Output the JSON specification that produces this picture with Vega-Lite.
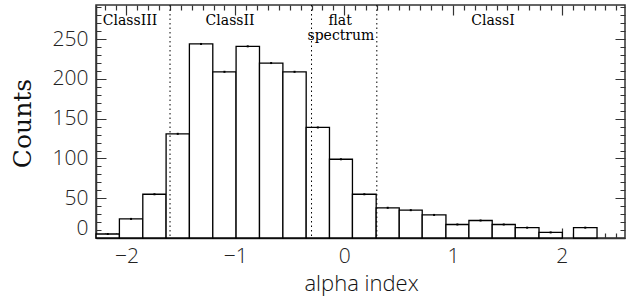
{
  "$schema": "https://vega.github.io/schema/vega-lite/v6.json",
  "width": 529,
  "height": 233,
  "autosize": "none",
  "padding": {"left": 96, "top": 5, "right": 1, "bottom": 70},
  "background": "white",
  "config": {
    "view": {"stroke": "#333", "strokeWidth": 1.5},
    "axis": {"domainColor": "#333", "domainWidth": 1.5, "labelColor": "#222", "titleColor": "#111", "zindex": 1, "ticks": false, "grid": true, "gridColor": "#333", "gridWidth": 1.2, "gridOpacity": 1}
  },
  "datasets": {
    "hist": [
      {"x0": -2.279, "x1": -2.065, "mid": -2.172, "count": 5},
      {"x0": -2.065, "x1": -1.850, "mid": -1.958, "count": 24},
      {"x0": -1.850, "x1": -1.636, "mid": -1.743, "count": 55},
      {"x0": -1.636, "x1": -1.422, "mid": -1.529, "count": 131},
      {"x0": -1.422, "x1": -1.207, "mid": -1.315, "count": 244},
      {"x0": -1.207, "x1": -0.993, "mid": -1.100, "count": 209},
      {"x0": -0.993, "x1": -0.778, "mid": -0.886, "count": 241},
      {"x0": -0.778, "x1": -0.563, "mid": -0.671, "count": 220},
      {"x0": -0.563, "x1": -0.349, "mid": -0.456, "count": 209},
      {"x0": -0.349, "x1": -0.135, "mid": -0.242, "count": 139},
      {"x0": -0.135, "x1": 0.076, "mid": -0.030, "count": 99},
      {"x0": 0.076, "x1": 0.294, "mid": 0.185, "count": 55},
      {"x0": 0.294, "x1": 0.506, "mid": 0.400, "count": 38},
      {"x0": 0.506, "x1": 0.717, "mid": 0.612, "count": 35},
      {"x0": 0.717, "x1": 0.935, "mid": 0.826, "count": 29},
      {"x0": 0.935, "x1": 1.146, "mid": 1.040, "count": 17},
      {"x0": 1.146, "x1": 1.360, "mid": 1.253, "count": 22},
      {"x0": 1.360, "x1": 1.572, "mid": 1.466, "count": 17},
      {"x0": 1.572, "x1": 1.790, "mid": 1.681, "count": 13},
      {"x0": 1.790, "x1": 2.004, "mid": 1.897, "count": 7},
      {"x0": 2.107, "x1": 2.323, "mid": 2.215, "count": 13}
    ],
    "bounds": [{"b": -1.6}, {"b": -0.3}, {"b": 0.3}],
    "labels": [
      {"text": "ClassIII", "x": -1.967, "y": 268},
      {"text": "ClassII", "x": -1.048, "y": 268},
      {"text": "flat", "x": -0.037, "y": 268},
      {"text": "spectrum", "x": -0.03, "y": 249},
      {"text": "ClassI", "x": 1.367, "y": 268}
    ]
  },
  "layer": [
    {
      "data": {"name": "hist"},
      "mark": {"type": "rect", "fill": "white", "stroke": "black", "strokeWidth": 1.3},
      "encoding": {
        "x": {
          "field": "x0", "type": "quantitative",
          "scale": {"domain": [-2.28, 2.58], "nice": false, "zero": false},
          "axis": {
            "orient": "bottom",
            "title": "alpha index",
            "titleFont": "Open Sans", "titleFontSize": 22, "titleFontWeight": 300,
            "titleBaseline": "alphabetic", "titleY": 52, "titleX": 265,
            "values": [-2.2,-2.1,-2,-1.9,-1.8,-1.7,-1.6,-1.5,-1.4,-1.3,-1.2,-1.1,-1,-0.9,-0.8,-0.7,-0.6,-0.5,-0.4,-0.3,-0.2,-0.1,0,0.1,0.2,0.3,0.4,0.5,0.6,0.7,0.8,0.9,1,1.1,1.2,1.3,1.4,1.5,1.6,1.7,1.8,1.9,2,2.1,2.2,2.3,2.4,2.5],
            "labelExpr": "abs(datum.value - round(datum.value)) < 0.001 ? format(round(datum.value), 'd') : ''",
            "labelFont": "Open Sans", "labelFontSize": 21, "labelFontWeight": 300,
            "labelBaseline": "alphabetic", "labelPadding": 24,
            "gridDash": {"condition": {"test": "abs(datum.value - round(datum.value)) < 0.001", "value": [10, 213, 10, 1000]}, "value": [5, 223, 5, 1000]}
          }
        },
        "x2": {"field": "x1"},
        "y": {
          "field": "count", "type": "quantitative",
          "scale": {"domain": [0, 293], "nice": false},
          "axis": {
            "orient": "left",
            "title": "Counts",
            "titleFont": "DejaVu Serif", "titleFontSize": 25, "titleFontWeight": "normal",
            "titleAngle": -90, "titleBaseline": "middle", "titleAlign": "center",
            "titleX": -74, "titleY": 118,
            "values": [0,10,20,30,40,50,60,70,80,90,100,110,120,130,140,150,160,170,180,190,200,210,220,230,240,250,260,270,280,290],
            "labelExpr": "datum.value % 50 === 0 ? datum.label : ''",
            "labelFont": "Open Sans", "labelFontSize": 21, "labelFontWeight": 300,
            "labelPadding": 8, "labelFlush": true,
            "gridDash": {"condition": {"test": "datum.value % 50 === 0", "value": [10, 509, 10, 1000]}, "value": [5, 519, 5, 1000]}
          }
        },
        "y2": {"datum": 0}
      }
    },
    {
      "data": {"name": "bounds"},
      "mark": {"type": "rule", "color": "black", "strokeWidth": 1, "strokeDash": [1.5, 3]},
      "encoding": {
        "x": {"field": "b", "type": "quantitative", "scale": {"domain": [-2.28, 2.58], "nice": false, "zero": false}, "axis": null}
      }
    },
    {
      "data": {"name": "labels"},
      "mark": {"type": "text", "font": "DejaVu Serif", "fontSize": 14, "baseline": "alphabetic", "align": "center", "color": "black"},
      "encoding": {
        "x": {"field": "x", "type": "quantitative", "scale": {"domain": [-2.28, 2.58], "nice": false, "zero": false}, "axis": null},
        "y": {"field": "y", "type": "quantitative", "scale": {"domain": [0, 293], "nice": false}, "axis": null},
        "text": {"field": "text"}
      }
    },
    {
      "data": {"name": "hist"},
      "mark": {"type": "point", "shape": "square", "size": 4, "filled": true, "color": "black", "opacity": 1},
      "encoding": {
        "x": {"field": "mid", "type": "quantitative", "scale": {"domain": [-2.28, 2.58], "nice": false, "zero": false}, "axis": null},
        "y": {"field": "count", "type": "quantitative", "scale": {"domain": [0, 293], "nice": false}, "axis": null}
      }
    }
  ],
  "resolve": {"axis": {"x": "independent", "y": "independent"}}
}
